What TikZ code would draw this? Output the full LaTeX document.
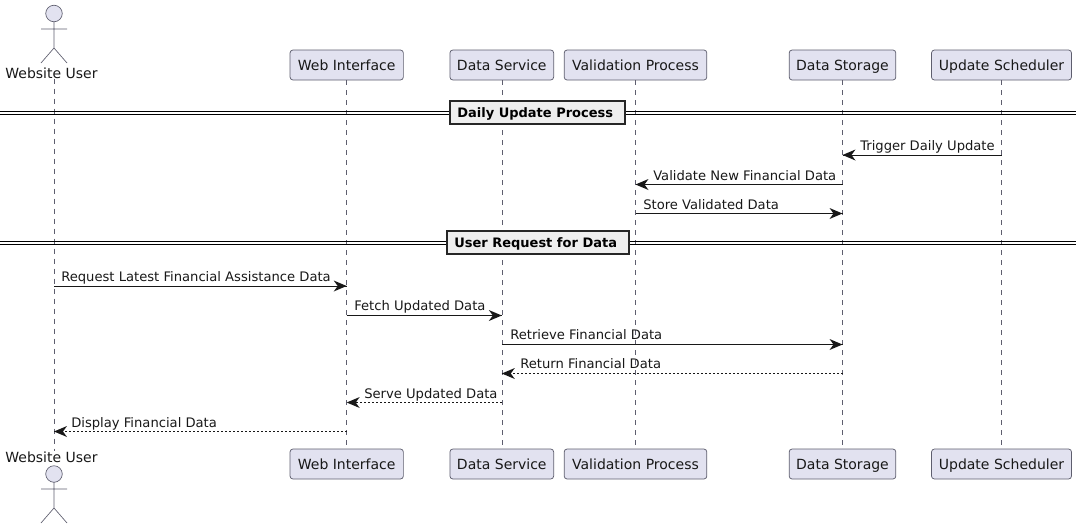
\documentclass[tikz,border=0pt]{standalone}
\usepackage{fontspec}
\setmainfont{DejaVu Sans}
\definecolor{pfill}{HTML}{E2E2F0}
\definecolor{pline}{HTML}{5E5E6E}
\definecolor{ink}{HTML}{181818}
\definecolor{divfill}{HTML}{EEEEEE}
\begin{document}
\begin{tikzpicture}[x=0.75pt,y=-0.75pt,
  part/.style={draw=pline,fill=pfill,rounded corners=2.2pt,line width=0.55pt,inner sep=0pt,minimum height=22.5pt,text height=8.75pt,text depth=1.25pt,font=\fontsize{10.5pt}{12pt}\selectfont,text=ink},
  life/.style={draw=pline,line width=0.4pt,dash pattern=on 3.75pt off 3.75pt},
  actorline/.style={draw=pline,line width=0.5pt},
  msg/.style={draw=ink,line width=0.75pt},
  reply/.style={draw=ink,line width=0.75pt,dash pattern=on 1.5pt off 1.5pt},
  tip/.style={fill=ink,draw=none},
  lbl/.style={inner sep=0pt,anchor=base west,text=ink,font=\fontsize{9.85pt}{12pt}\selectfont},
  divbox/.style={draw=black!85,fill=divfill,line width=1.5pt,inner sep=0pt,minimum height=17.5pt},
  divtext/.style={inner sep=0pt,anchor=base west,text=black,font=\bfseries\fontsize{9.75pt}{12pt}\selectfont},
  divline/.style={draw=black,line width=0.9pt},
  who/.style={inner sep=0pt,text=ink,font=\fontsize{10.5pt}{12pt}\selectfont}]
\useasboundingbox (0,0) rectangle (1082,529);
% heads
\node[part,minimum width=85pt] (web) at (346.7,65) {Web Interface};
\node[part,minimum width=77.8pt] (data) at (501.8,65) {Data Service};
\node[part,minimum width=107pt] (val) at (635.5,65) {Validation Process};
\node[part,minimum width=80pt] (stor) at (842.5,65) {Data Storage};
\node[part,minimum width=105pt] (sch) at (1001.5,65) {Update Scheduler};
\node[part,minimum width=85pt] (webb) at (346.7,464) {Web Interface};
\node[part,minimum width=77.8pt] (datab) at (501.8,464) {Data Service};
\node[part,minimum width=107pt] (valb) at (635.5,464) {Validation Process};
\node[part,minimum width=80pt] (storb) at (842.5,464) {Data Storage};
\node[part,minimum width=105pt] (schb) at (1001.5,464) {Update Scheduler};
% actors
\node[who] (usr) at (51.5,73) {Website User};
\node[who] (usrb) at (51.5,457) {Website User};
\draw[actorline,fill=pfill] (54,13.5) circle[radius=6.2pt];
\draw[actorline,fill=pfill] (54,474) circle[radius=6.2pt];
\draw[actorline] (54,22) -- (54,48) (41,29) -- (67,29) (41,63) -- (54,48) -- (67,63);
\draw[actorline] (54,482) -- (54,508) (41,489) -- (67,489) (41,523) -- (54,508) -- (67,523);
% lifelines
\coordinate (usrl) at (54,0);
\draw[life] (usrl|-usr.south) -- (usrl|-usrb.north);
\draw[life] (web.south) -- (webb.north);
\draw[life] (data.south) -- (datab.north);
\draw[life] (val.south) -- (valb.north);
\draw[life] (stor.south) -- (storb.north);
\draw[life] (sch.south) -- (schb.north);
% dividers
\draw[divline] (0,111.2) -- (1076,111.2) (0,114.4) -- (1076,114.4);
\node[divbox,minimum width=131.5pt] (d1) at (537.8,112.7) {};
\node[divtext] at (457,117.5) {Daily Update Process};
\draw[divline] (0,241.2) -- (1076,241.2) (0,244.6) -- (1076,244.6);
\node[divbox,minimum width=136pt] (d2) at (538,242.7) {};
\node[divtext] at (454,247.5) {User Request for Data};
% messages
\newcommand{\msgl}[5]{% style,from,to,y,dir
  \draw[#1] (#2|-0,#4) -- (#3|-0,#4);
  \fill[tip] (#3|-0,#4) -- ++(#5*13,-5.5) -- ++(-#5*4,5.5) -- ++(#5*4,5.5) -- cycle;}
\msgl{msg}{sch}{stor}{155}{1}
\msgl{msg}{stor}{val}{184.5}{1}
\msgl{msg}{val}{stor}{213.5}{-1}
\msgl{msg}{usrl}{web}{286}{-1}
\msgl{msg}{web}{data}{315.5}{-1}
\msgl{msg}{data}{stor}{344.5}{-1}
\msgl{reply}{stor}{data}{373.5}{1}
\msgl{reply}{data}{web}{402.5}{1}
\msgl{reply}{web}{usrl}{431.5}{1}
\node[lbl] at (860,150) {Trigger Daily Update};
\node[lbl] at (653,180) {Validate New Financial Data};
\node[lbl] at (643,209) {Store Validated Data};
\node[lbl] at (61,281) {Request Latest Financial Assistance Data};
\node[lbl] at (354,310) {Fetch Updated Data};
\node[lbl] at (510,339) {Retrieve Financial Data};
\node[lbl] at (520,368) {Return Financial Data};
\node[lbl] at (364,398) {Serve Updated Data};
\node[lbl] at (71,427) {Display Financial Data};
\end{tikzpicture}
\end{document}
